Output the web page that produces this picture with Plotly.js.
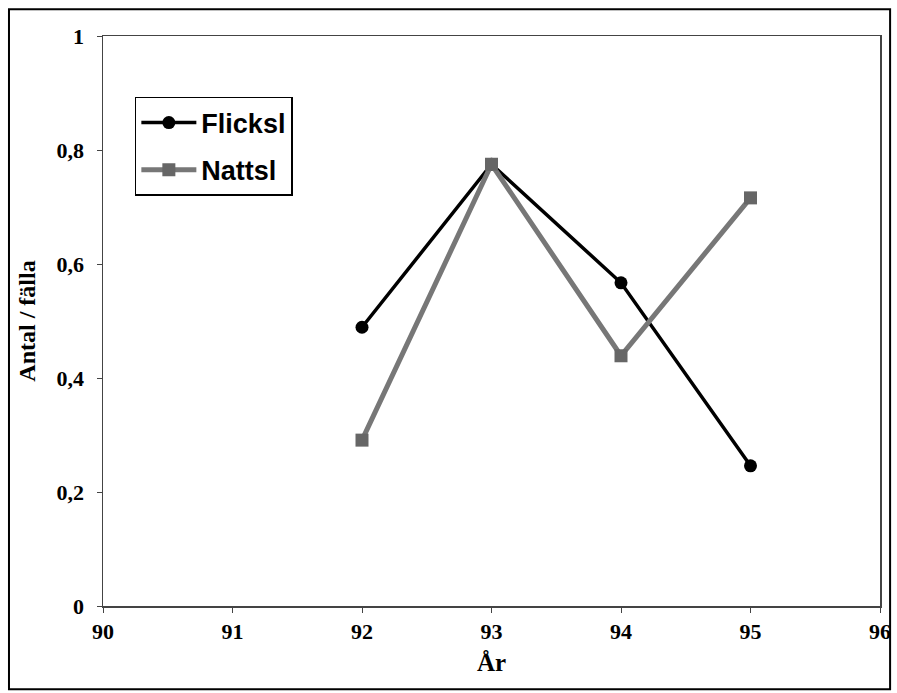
<!DOCTYPE html>
<html>
<head>
<meta charset="utf-8">
<script src="https://cdn.plot.ly/plotly-3.0.1.min.js"></script>
<style>html,body{margin:0;padding:0;background:#fff}</style>
</head>
<body>
<div id="chart" style="width:897px;height:693px"></div>
<script>
const years = [92, 93, 94, 95];
const flicksl = [0.489, 0.775, 0.567, 0.246];
const nattsl = [0.291, 0.775, 0.439, 0.716];
const xTicks = [90, 91, 92, 93, 94, 95, 96];
const yTicks = [0, 0.2, 0.4, 0.6, 0.8, 1];
const yTickLabels = ['0', '0,2', '0,4', '0,6', '0,8', '1'];

const serifFam = 'Liberation Serif, Times New Roman, serif';

const traces = [
  {x: years, y: flicksl, name: 'Flicksl', type: 'scatter', mode: 'lines+markers',
   line: {color: '#000', width: 3.5}, marker: {symbol: 'circle', size: 13, color: '#000'},
   legendgroup: 'a'},
  {x: years, y: nattsl, name: 'Nattsl', type: 'scatter', mode: 'lines+markers',
   line: {color: '#777', width: 5}, marker: {symbol: 'square', size: 13, color: '#666'},
   legendgroup: 'b'}
];

const layout = {
  width: 897, height: 693,
  margin: {l: 103, r: 17, t: 36, b: 87},
  paper_bgcolor: '#fff', plot_bgcolor: '#fff',
  showlegend: true,
  legend: {x: 0.041, y: 0.893, xanchor: 'left', yanchor: 'top',
    bgcolor: '#fff', bordercolor: '#000', borderwidth: 1.5,
    font: {family: 'Liberation Sans, Arial, sans-serif', size: 27, color: '#000', weight: 'bold'},
    tracegroupgap: 9, itemwidth: 55},
  xaxis: {range: [90, 96], tickvals: xTicks, ticktext: xTicks.map(String),
    showgrid: false, zeroline: false, showline: true, mirror: true, linecolor: '#444', linewidth: 1.5,
    ticks: 'outside', ticklen: 5, tickcolor: '#444',
    tickfont: {family: serifFam, size: 22, color: '#000', weight: 'bold'},
    title: {text: 'År', font: {family: serifFam, size: 25, color: '#000', weight: 'bold'}, standoff: 10}},
  yaxis: {range: [0, 1], tickvals: yTicks, ticktext: yTickLabels,
    showgrid: false, zeroline: false, showline: true, mirror: true, linecolor: '#444', linewidth: 1.5,
    ticks: 'outside', ticklen: 5, tickcolor: '#444', ticklabelstandoff: 8,
    tickfont: {family: serifFam, size: 22, color: '#000', weight: 'bold'},
    title: {text: 'Antal / fälla', font: {family: serifFam, size: 24, color: '#000', weight: 'bold'}, standoff: 14}},
  shapes: [
    {type: 'rect', xref: 'paper', yref: 'paper', x0: -0.121, x1: 1.013, y0: -0.146, y1: 1.047,
     line: {color: '#000', width: 2}, fillcolor: 'rgba(0,0,0,0)', layer: 'below'}
  ]
};

Plotly.newPlot('chart', traces, layout, {displayModeBar: false, staticPlot: true});
</script>
</body>
</html>
